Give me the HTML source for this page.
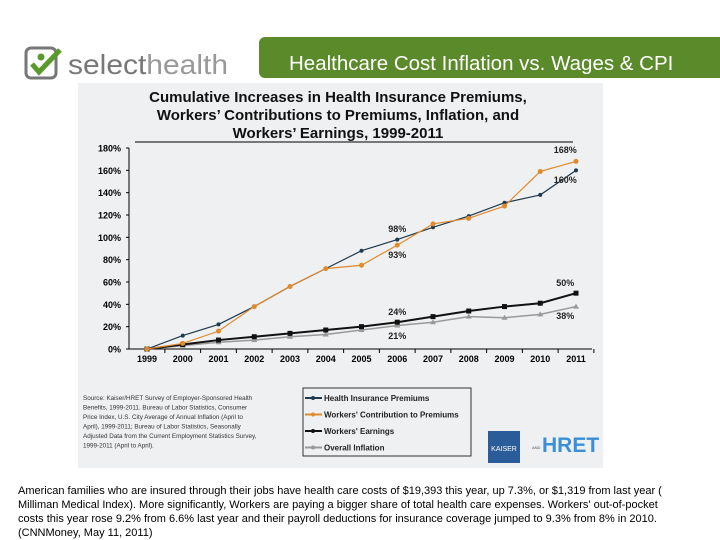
<!DOCTYPE html>
<html><head><meta charset="utf-8"><style>
body{margin:0;width:720px;height:540px;background:#fff;font-family:"Liberation Sans",sans-serif;position:relative;overflow:hidden}
.logo{position:absolute;left:24px;top:44px}
.banner{position:absolute;left:259px;top:37px;width:470px;height:41px;background:#5a8a2a;border-radius:6px 0 0 6px;color:#fff;font-size:20.5px;line-height:54px;padding-left:30px;box-sizing:border-box;white-space:nowrap}
.panel{position:absolute;left:78px;top:83px;width:525px;height:385px;background:#eef0f1}
.foot{position:absolute;left:18px;top:484px;width:662px;font-size:11px;line-height:14px;color:#000}
</style></head><body>
<div class="logo">
<svg width="240" height="40"><rect x="2" y="4" width="30" height="30" rx="5" fill="none" stroke="#777" stroke-width="3"/><circle cx="17" cy="13" r="3.5" fill="#5a9a2a"/><path d="M8 20 L15 28 L36 6" fill="none" stroke="#5a9a2a" stroke-width="5"/><text x="44" y="30" font-size="28" fill="#777" font-family="Liberation Sans" textLength="160" lengthAdjust="spacingAndGlyphs">select<tspan fill="#999">health</tspan></text></svg>
</div>
<div class="banner">Healthcare Cost Inflation vs. Wages &amp; CPI</div>
<div class="panel"></div>
<svg id="c" width="720" height="540" style="position:absolute;left:0;top:0"></svg>
<div class="foot">American families who are insured through their jobs have health care costs of $19,393 this year, up 7.3%, or $1,319 from last year ( Milliman Medical Index). More significantly, Workers are paying a bigger share of total health care expenses. Workers' out-of-pocket costs this year rose 9.2% from 6.6% last year and their payroll deductions for insurance coverage jumped to 9.3% from 8% in 2010. (CNNMoney, May 11, 2011)</div>
<script>
const years=["1999","2000","2001","2002","2003","2004","2005","2006","2007","2008","2009","2010","2011"];
const premiums=[0,12,22,38,56,72,88,98,109,119,131,138,160];
const contributions=[0,5,16,38,56,72,75,93,112,117,128,159,168];
const earnings=[0,4,8,11,14,17,20,24,29,34,38,41,50];
const inflation=[0,3,6,8,11,13,17,21,24,29,28,31,38];
const yTicks=[0,20,40,60,80,100,120,140,160,180];
const NS="http://www.w3.org/2000/svg";
const svg=document.getElementById('c');
const x0=147,dx=35.75,y0=349,ky=201/180;
const X=i=>x0+i*dx, Y=v=>y0-v*ky;
function mk(t,a,p){const e=document.createElementNS(NS,t);for(const k in a)e.setAttribute(k,a[k]);(p||svg).appendChild(e);return e;}
function txt(x,y,s,o){const e=mk('text',Object.assign({x:x,y:y,'font-family':'Liberation Sans, sans-serif'},o));e.textContent=s;return e;}
[["Cumulative Increases in Health Insurance Premiums,",102],["Workers’ Contributions to Premiums, Inflation, and",120],["Workers’ Earnings, 1999-2011",138]].forEach(l=>{
const t=txt(338,l[1],l[0],{'font-size':15,'font-weight':'bold','text-anchor':'middle',fill:'#111'});

});
mk('line',{x1:135,y1:142,x2:573,y2:142,stroke:'#000','stroke-width':1});
const ax=mk('line',{x1:129,y1:Y(180),x2:129,y2:y0,stroke:'#000'});


const xa=mk('line',{x1:129,y1:y0,x2:592,y2:y0,stroke:'#000'});


yTicks.forEach(v=>{mk('line',{x1:126,y1:Y(v),x2:129,y2:Y(v),stroke:'#000'});
const t=txt(121,Y(v)+3.5,v+'%',{'font-size':9,'font-weight':'bold','text-anchor':'end'});

});
years.forEach((y,i)=>{mk('line',{x1:X(i)+dx/2,y1:y0,x2:X(i)+dx/2,y2:y0+4,stroke:'#000'});
const t=txt(X(i),362,y,{'font-size':9,'font-weight':'bold','text-anchor':'middle'});

});
function series(data,color,w,marker,name){
const g=mk('g',{});


mk('polyline',{points:data.map((v,i)=>X(i)+','+Y(v)).join(' '),fill:'none',stroke:color,'stroke-width':w},g);
data.forEach((v,i)=>{const cx=X(i),cy=Y(v);
if(marker==='sq')mk('rect',{x:cx-2.5,y:cy-2.5,width:5,height:5,fill:color},g);
else if(marker==='tri')mk('polygon',{points:`${cx},${cy-3} ${cx-3},${cy+2} ${cx+3},${cy+2}`,fill:color},g);
else mk('circle',{cx:cx,cy:cy,r:marker==='dot'?2.5:2,fill:color},g);});}
series(inflation,'#999',1.5,'tri','series-overall-inflation');
series(earnings,'#111',2,'sq','series-workers-earnings');
series(premiums,'#1f3a4d',1.2,'sm','series-health-premiums');
series(contributions,'#e08a2e',1.2,'dot','series-workers-contribution');
[["168%",11.7,153],["160%",11.7,183],["98%",7,232],["93%",7,258],["50%",11.7,286],["24%",7,315],["38%",11.7,319],["21%",7,339]].forEach(a=>{
const t=txt(X(a[1]),a[2],a[0],{'font-size':9,'font-weight':'bold','text-anchor':'middle',fill:'#222'});

});
const src=["Source:  Kaiser/HRET  Survey of Employer-Sponsored Health","Benefits, 1999-2011.  Bureau of Labor Statistics, Consumer","Price Index, U.S. City Average of Annual Inflation (April to","April), 1999-2011; Bureau of Labor Statistics, Seasonally","Adjusted Data from the Current Employment Statistics Survey,","1999-2011 (April to April)."];
src.forEach((s,i)=>{const t=txt(83,400+i*9.5,s,{'font-size':6.3,fill:'#333'});

});
const lg=mk('rect',{x:303,y:388,width:168,height:68,fill:'none',stroke:'#333'});


[["Health Insurance Premiums",'#1f3a4d'],["Workers' Contribution to Premiums",'#e08a2e'],["Workers' Earnings",'#111'],["Overall Inflation",'#999']].forEach((l,i)=>{
const y=398+i*16.5;mk('line',{x1:305,y1:y,x2:322,y2:y,stroke:l[1],'stroke-width':2});mk('circle',{cx:313,cy:y,r:2,fill:l[1]});
const t=txt(324,y+3,l[0],{'font-size':8,'font-weight':'bold',fill:'#222'});

});
mk('rect',{x:488,y:431,width:32,height:32,fill:'#2a5c9a'});
const k=txt(504,451,'KAISER',{'font-size':7,fill:'#fff','text-anchor':'middle'});


txt(532,449,'AND',{'font-size':4,fill:'#555'});
const h=txt(542,452,'HRET',{'font-size':21,'font-weight':'bold',fill:'#3a8fd6'});


</script>
</body></html>
